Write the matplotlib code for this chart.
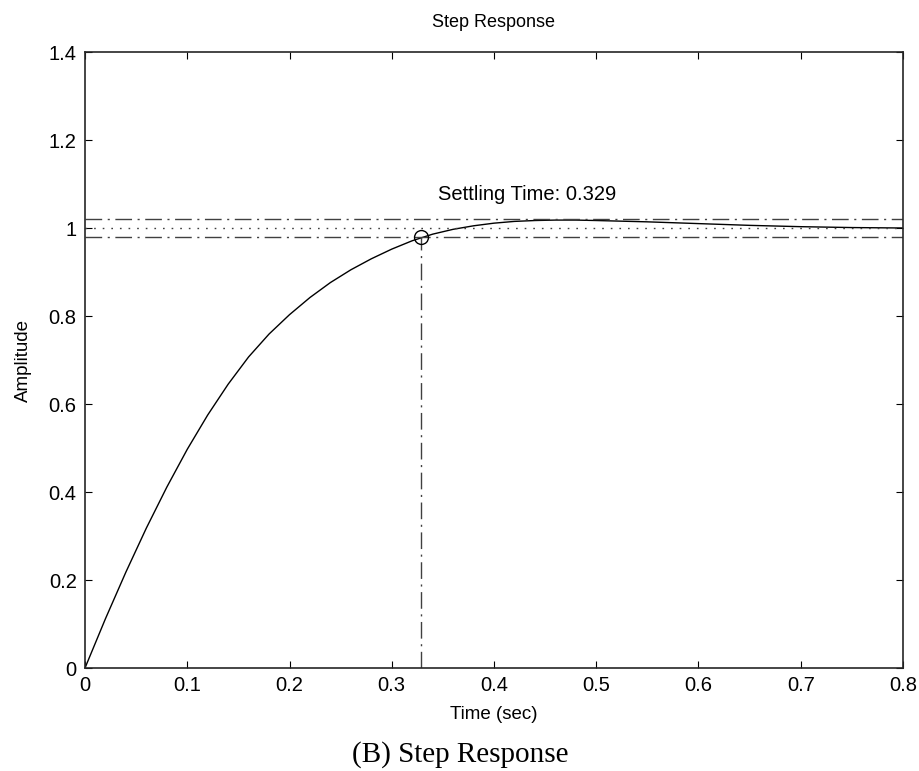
import numpy as np
import matplotlib
matplotlib.use("Agg")
import matplotlib.pyplot as plt

# step response
timeSec = [0.0, 0.02, 0.04, 0.06, 0.08, 0.10, 0.12, 0.14, 0.16, 0.18, 0.20,
           0.22, 0.24, 0.26, 0.28, 0.30, 0.32, 0.34, 0.36, 0.38, 0.40,
           0.42, 0.44, 0.46, 0.48, 0.50, 0.55, 0.60, 0.65, 0.70, 0.75, 0.80]
amplitude = [0.0, 0.112, 0.218, 0.318, 0.411, 0.497, 0.575, 0.645, 0.707, 0.759, 0.803,
             0.842, 0.876, 0.905, 0.930, 0.952, 0.971, 0.986, 0.997, 1.005, 1.011,
             1.015, 1.017, 1.018, 1.018, 1.017, 1.014, 1.010, 1.006, 1.003, 1.001, 1.000]

settlingTime = 0.329
settlingAmp = 0.98
finalValue = 1.0
bandUpper = 1.02
bandLower = 0.98

xTicks = [0, 0.1, 0.2, 0.3, 0.4, 0.5, 0.6, 0.7, 0.8]
yTicks = [0, 0.2, 0.4, 0.6, 0.8, 1, 1.2, 1.4]

plt.rcParams["font.family"] = ["Liberation Sans", "DejaVu Sans"]

fig = plt.figure(figsize=(9.2, 7.71), dpi=100)
ax = fig.add_axes([85 / 920, 1 - 668 / 771, 818 / 920, 616 / 771])

ax.plot(timeSec, amplitude, color="black", linewidth=1.0)

dashDot = (0, (12, 4, 1.5, 4))
ax.axhline(bandUpper, color="0.25", linewidth=1.0, linestyle=dashDot)
ax.axhline(bandLower, color="0.25", linewidth=1.0, linestyle=dashDot)
ax.axhline(finalValue, color="0.25", linewidth=1.0, linestyle=(0, (1.2, 5)))
ax.plot([settlingTime, settlingTime], [0, settlingAmp], color="0.25",
        linewidth=1.0, linestyle=dashDot)
ax.plot(settlingTime, settlingAmp, "o", markersize=10, markerfacecolor="none",
        markeredgecolor="black", markeredgewidth=1.0)

ax.text(0.345, 1.075, "Settling Time: " + str(settlingTime), fontsize=14.5,
        ha="left", va="center")

ax.set_xlim(0, 0.8)
ax.set_ylim(0, 1.4)
ax.set_xticks(xTicks)
ax.set_xticklabels(["0", "0.1", "0.2", "0.3", "0.4", "0.5", "0.6", "0.7", "0.8"])
ax.set_yticks(yTicks)
ax.set_yticklabels(["0", "0.2", "0.4", "0.6", "0.8", "1", "1.2", "1.4"])
ax.tick_params(direction="in", length=5, width=0.8, labelsize=14.5,
               top=True, right=True, pad=6)
for sp in ax.spines.values():
    sp.set_linewidth(1.2)
    sp.set_color("0.15")

ax.set_title("Step Response", fontsize=13, pad=18)
ax.set_xlabel("Time (sec)", fontsize=13.5, labelpad=8)
ax.set_ylabel("Amplitude", fontsize=13.5, labelpad=12)

fig.text(0.5, 1 - 755 / 771, "(B) Step Response", family="Liberation Serif",
         fontsize=21, ha="center", va="center")

fig.savefig("out.png", dpi=100, facecolor="white")
